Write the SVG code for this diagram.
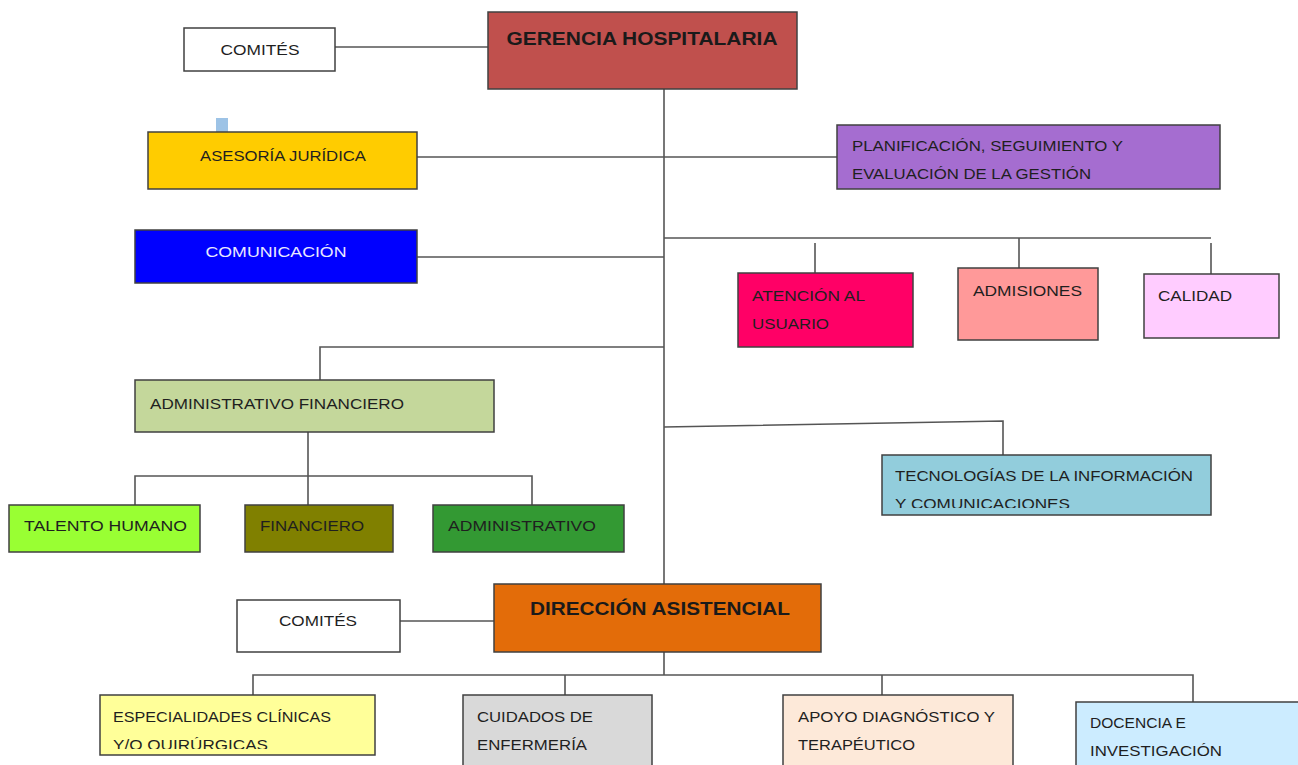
<svg xmlns="http://www.w3.org/2000/svg" width="1298" height="765" viewBox="0 0 1298 765">
  <style>
    .box { stroke: #404040; stroke-width: 1.5; }
    .t { font-family: "Liberation Sans", Arial, sans-serif; font-size: 15.5px; fill: #1f1f1f; }
    .tb { font-family: "Liberation Sans", Arial, sans-serif; font-size: 19px; font-weight: bold; fill: #1a1a1a; }
    .tw { fill: #e8e8ff; }
    .c { text-anchor: middle; }
    .ln { stroke: #555555; stroke-width: 1.6; fill: none; }
  </style>
  <defs>
    <clipPath id="clipTic"><rect x="882" y="455" width="329" height="53"/></clipPath>
    <clipPath id="clipEsp"><rect x="100" y="695" width="275" height="54"/></clipPath>
  </defs>
  <rect width="1298" height="765" fill="#ffffff"/>

  <!-- connectors -->
  <g id="connectors" class="ln">
    <line x1="335" y1="47" x2="488" y2="47"/>
    <line x1="664" y1="89" x2="664" y2="584"/>
    <line x1="417" y1="157" x2="838" y2="157"/>
    <line x1="417" y1="257" x2="664" y2="257"/>
    <line x1="664" y1="238" x2="1211" y2="238"/>
    <line x1="815" y1="243" x2="815" y2="273"/>
    <line x1="1019" y1="238" x2="1019" y2="268"/>
    <line x1="1211" y1="243" x2="1211" y2="274"/>
    <polyline points="664,347 320,347 320,380"/>
    <line x1="308" y1="426" x2="308" y2="505"/>
    <polyline points="135,505 135,476 532,476 532,505"/>
    <polyline points="664,427 1003,421 1003,455"/>
    <line x1="400" y1="621" x2="494" y2="621"/>
    <line x1="664" y1="645" x2="664" y2="675"/>
    <polyline points="253,695 253,675 1193,675 1193,702"/>
    <line x1="565" y1="675" x2="565" y2="695"/>
    <line x1="882" y1="675" x2="882" y2="701"/>
  </g>

  <rect x="216" y="118" width="12" height="14" fill="#9DC3E6"/>

  <g id="gerencia">
    <rect class="box" x="488" y="12" width="309" height="77" fill="#C0504D"/>
    <text class="tb c" x="642" y="45" textLength="271" lengthAdjust="spacingAndGlyphs">GERENCIA HOSPITALARIA</text>
  </g>
  <g id="comites-gerencia">
    <rect class="box" x="184" y="28" width="151" height="43" fill="#ffffff"/>
    <text class="t c" x="260" y="55" textLength="79" lengthAdjust="spacingAndGlyphs">COMITÉS</text>
  </g>
  <g id="asesoria">
    <rect class="box" x="148" y="132" width="269" height="57" fill="#FFCC00"/>
    <text class="t c" x="283" y="161" textLength="166" lengthAdjust="spacingAndGlyphs">ASESORÍA JURÍDICA</text>
  </g>
  <g id="planificacion">
    <rect class="box" x="837" y="125" width="383" height="64" fill="#A56DD0"/>
    <text class="t" x="852" y="151" textLength="271" lengthAdjust="spacingAndGlyphs">PLANIFICACIÓN, SEGUIMIENTO Y</text>
    <text class="t" x="852" y="179" textLength="239" lengthAdjust="spacingAndGlyphs">EVALUACIÓN DE LA GESTIÓN</text>
  </g>
  <g id="comunicacion">
    <rect class="box" x="135" y="230" width="282" height="53" fill="#0000FF"/>
    <text class="t tw c" x="276" y="257" textLength="141" lengthAdjust="spacingAndGlyphs">COMUNICACIÓN</text>
  </g>
  <g id="atencion">
    <rect class="box" x="738" y="273" width="175" height="74" fill="#FF0066"/>
    <text class="t" x="752" y="301" textLength="113" lengthAdjust="spacingAndGlyphs">ATENCIÓN AL</text>
    <text class="t" x="752" y="329" textLength="77" lengthAdjust="spacingAndGlyphs">USUARIO</text>
  </g>
  <g id="admisiones">
    <rect class="box" x="958" y="268" width="140" height="72" fill="#FF9999"/>
    <text class="t" x="973" y="296" textLength="109" lengthAdjust="spacingAndGlyphs">ADMISIONES</text>
  </g>
  <g id="calidad">
    <rect class="box" x="1144" y="274" width="135" height="64" fill="#FFCCFF"/>
    <text class="t" x="1158" y="301" textLength="74" lengthAdjust="spacingAndGlyphs">CALIDAD</text>
  </g>
  <g id="admin-financiero">
    <rect class="box" x="135" y="380" width="359" height="52" fill="#C4D79B"/>
    <text class="t" x="150" y="409" textLength="254" lengthAdjust="spacingAndGlyphs">ADMINISTRATIVO FINANCIERO</text>
  </g>
  <g id="talento">
    <rect class="box" x="9" y="505" width="191" height="47" fill="#99FF33"/>
    <text class="t" x="24" y="531" textLength="163" lengthAdjust="spacingAndGlyphs">TALENTO HUMANO</text>
  </g>
  <g id="financiero">
    <rect class="box" x="245" y="505" width="148" height="47" fill="#808000"/>
    <text class="t" x="260" y="531" textLength="104" lengthAdjust="spacingAndGlyphs">FINANCIERO</text>
  </g>
  <g id="administrativo">
    <rect class="box" x="433" y="505" width="191" height="47" fill="#339933"/>
    <text class="t" x="448" y="531" textLength="148" lengthAdjust="spacingAndGlyphs">ADMINISTRATIVO</text>
  </g>
  <g id="tic">
    <rect class="box" x="882" y="455" width="329" height="60" fill="#92CDDC"/>
    <g clip-path="url(#clipTic)">
      <text class="t" x="895" y="481" textLength="298" lengthAdjust="spacingAndGlyphs">TECNOLOGÍAS DE LA INFORMACIÓN</text>
      <text class="t" x="895" y="509" textLength="175" lengthAdjust="spacingAndGlyphs">Y COMUNICACIONES</text>
    </g>
  </g>
  <g id="direccion">
    <rect class="box" x="494" y="584" width="327" height="68" fill="#E36C09"/>
    <text class="tb c" x="660" y="615" textLength="260" lengthAdjust="spacingAndGlyphs">DIRECCIÓN ASISTENCIAL</text>
  </g>
  <g id="comites-direccion">
    <rect class="box" x="237" y="600" width="163" height="52" fill="#ffffff"/>
    <text class="t c" x="318" y="626" textLength="78" lengthAdjust="spacingAndGlyphs">COMITÉS</text>
  </g>
  <g id="especialidades">
    <rect class="box" x="100" y="695" width="275" height="60" fill="#FFFF99"/>
    <g clip-path="url(#clipEsp)">
      <text class="t" x="113" y="722" textLength="218" lengthAdjust="spacingAndGlyphs">ESPECIALIDADES CLÍNICAS</text>
      <text class="t" x="113" y="750" textLength="155" lengthAdjust="spacingAndGlyphs">Y/O QUIRÚRGICAS</text>
    </g>
  </g>
  <g id="cuidados">
    <rect class="box" x="463" y="695" width="189" height="75" fill="#D9D9D9"/>
    <text class="t" x="477" y="722" textLength="116" lengthAdjust="spacingAndGlyphs">CUIDADOS DE</text>
    <text class="t" x="477" y="750" textLength="110" lengthAdjust="spacingAndGlyphs">ENFERMERÍA</text>
  </g>
  <g id="apoyo">
    <rect class="box" x="783" y="695" width="230" height="75" fill="#FDE9D9"/>
    <text class="t" x="798" y="722" textLength="197" lengthAdjust="spacingAndGlyphs">APOYO DIAGNÓSTICO Y</text>
    <text class="t" x="798" y="750" textLength="117" lengthAdjust="spacingAndGlyphs">TERAPÉUTICO</text>
  </g>
  <g id="docencia">
    <rect class="box" x="1076" y="702" width="230" height="70" fill="#CCECFF"/>
    <text class="t" x="1090" y="728" textLength="96" lengthAdjust="spacingAndGlyphs">DOCENCIA E</text>
    <text class="t" x="1090" y="756" textLength="132" lengthAdjust="spacingAndGlyphs">INVESTIGACIÓN</text>
  </g>
</svg>
